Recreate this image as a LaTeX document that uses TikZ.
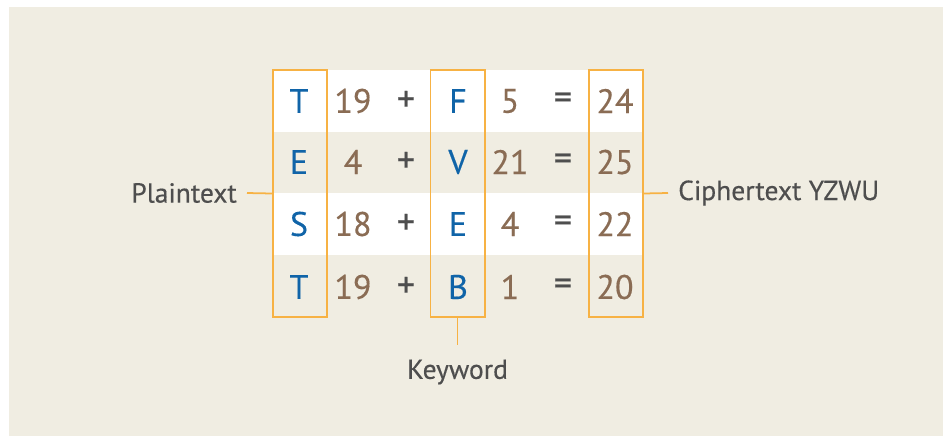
\documentclass[tikz,border=0pt]{standalone}
\usepackage{fontspec}
\setmainfont[FakeBold=0.35]{PT Sans}
\usepackage{xcolor}
\definecolor{vgbeige}{RGB}{240,237,226}
\definecolor{vgorange}{RGB}{247,178,68}
\definecolor{vgblue}{RGB}{16,100,168}
\definecolor{vgbrown}{RGB}{138,108,84}
\definecolor{vggray}{RGB}{78,78,78}
\usetikzlibrary{positioning}
\tikzset{
  letter/.style={font=\fontsize{29}{30}\selectfont, text=vgblue, inner sep=0pt},
  numb/.style={font=\fontsize{29}{30}\selectfont, text=vgbrown, inner sep=0pt},
  oper/.style={font=\fontsize{31}{32}\selectfont, text=vggray, inner sep=0pt},
  obox/.style={draw=vgorange, line width=1.7pt, minimum width=1.62cm,
               minimum height=7.41cm, inner sep=0pt},
  lbl/.style={font=\fontsize{23.5}{25}\selectfont, text=vggray, inner sep=0.3cm},
  conn/.style={draw=vgorange, line width=1.5pt},
}

\begin{document}
\begin{tikzpicture}[x=0.03cm, y=-0.03cm]
\useasboundingbox (0,0) rectangle (943,436);
% background panel
\fill[vgbeige] (9,7) rectangle (943,436);
\fill[white] (273,70) rectangle (642,132);
\fill[white] (273,193) rectangle (642,255);

% row 1
\node[letter] (p1) at (299,101) {T};
\node[numb] (pn1) at (353,101) {19};
\node[oper] (plus1) at (406,101) {+};
\node[letter] (k1) at (458,101) {F};
\node[numb] (kn1) at (510,101) {5};
\node[oper] (eq1) at (563,101) {=};
\node[numb] (c1) at (615,101) {24};
% row 2
\node[letter] (p2) at (299,162) {E};
\node[numb] (pn2) at (353,162) {4};
\node[oper] (plus2) at (406,162) {+};
\node[letter] (k2) at (458,162) {V};
\node[numb] (kn2) at (510,162) {21};
\node[oper] (eq2) at (563,162) {=};
\node[numb] (c2) at (615,162) {25};
% row 3
\node[letter] (p3) at (299,224) {S};
\node[numb] (pn3) at (353,224) {18};
\node[oper] (plus3) at (406,224) {+};
\node[letter] (k3) at (458,224) {E};
\node[numb] (kn3) at (510,224) {4};
\node[oper] (eq3) at (563,224) {=};
\node[numb] (c3) at (615,224) {22};
% row 4
\node[letter] (p4) at (299,287) {T};
\node[numb] (pn4) at (353,287) {19};
\node[oper] (plus4) at (406,287) {+};
\node[letter] (k4) at (458,287) {B};
\node[numb] (kn4) at (510,287) {1};
\node[oper] (eq4) at (563,287) {=};
\node[numb] (c4) at (615,287) {20};

% column frames
\node[obox] (plainbox) at (300,193.5) {};
\node[obox] (keybox) at (457.5,193.5) {};
\node[obox] (cipherbox) at (615.5,193.5) {};

% labels
\node[lbl, anchor=east] (plaintext) at (247,193) {Plaintext};
\node[lbl, anchor=west] (ciphertext) at (668,193) {Ciphertext YZWU};
\coordinate (keyend) at (457.5,345);
\node[lbl] (keyword) at (457.5,372) {Keyword};

\draw[conn] (plainbox.west) -- (plaintext.east);
\draw[conn] (cipherbox.east) -- (ciphertext.west);
\draw[conn] (keybox.south) -- (keyend);
\end{tikzpicture}
\end{document}
